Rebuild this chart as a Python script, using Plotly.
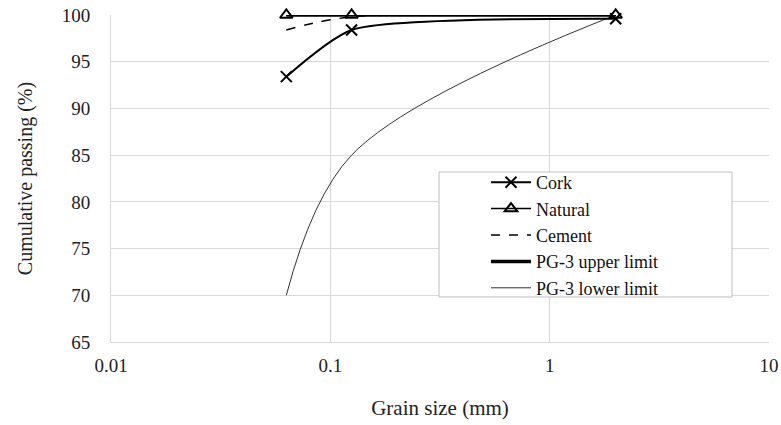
import plotly.graph_objects as go

cork_x = [0.063, 0.125, 2]
cork_y = [93.4, 98.4, 99.6]
natural_x = [0.063, 0.125, 2]
natural_y = [100, 100, 100]
cement_x = [0.063, 0.125, 2]
cement_y = [98.4, 99.8, 100]
upper_x = [0.063, 2]
upper_y = [100, 100]
lower_x = [0.063, 0.125, 2]
lower_y = [70, 85, 100]

x_ticks = [0.01, 0.1, 1, 10]
x_tick_labels = ["0.01", "0.1", "1", "10"]
y_ticks = [65, 70, 75, 80, 85, 90, 95, 100]

font = "Liberation Serif"

fig = go.Figure()
fig.add_trace(go.Scatter(x=lower_x, y=lower_y, name="PG-3 lower limit", mode="lines", legendrank=5,
                         cliponaxis=False,
                         line=dict(color="#333333", width=1, shape="spline", smoothing=1.0)))
fig.add_trace(go.Scatter(x=upper_x, y=upper_y, name="PG-3 upper limit", mode="lines", legendrank=4,
                         cliponaxis=False,
                         line=dict(color="black", width=3.5)))
fig.add_trace(go.Scatter(x=cement_x, y=cement_y, name="Cement", mode="lines", legendrank=3,
                         cliponaxis=False,
                         line=dict(color="black", width=1.5, dash="dash", shape="spline", smoothing=1)))
fig.add_trace(go.Scatter(x=cork_x, y=cork_y, name="Cork", mode="lines+markers", legendrank=1,
                         cliponaxis=False,
                         line=dict(color="black", width=2, shape="spline", smoothing=0.6),
                         marker=dict(symbol="x-thin-open", size=11, line=dict(color="black", width=2))))
fig.add_trace(go.Scatter(x=natural_x, y=natural_y, name="Natural", mode="lines+markers", legendrank=2,
                         cliponaxis=False,
                         line=dict(color="black", width=1.5),
                         marker=dict(symbol="triangle-up-open", size=11, color="black",
                                     line=dict(color="black", width=2))))

L, R, T, B = 111, 12, 15, 83
W, H = 781, 425
pw, ph = W - L - R, H - T - B

def px_x(p):
    return (p - L) / pw

def px_y(p):
    return (H - B - p) / ph

fig.update_layout(
    width=W, height=H,
    margin=dict(l=L, r=R, t=T, b=B, autoexpand=False),
    paper_bgcolor="white", plot_bgcolor="white",
    font=dict(family=font, size=19, color="#222222"),
    showlegend=True,
    legend=dict(x=px_x(486), y=px_y(164), xanchor="left", yanchor="top",
                borderwidth=0, bgcolor="rgba(0,0,0,0)", traceorder="normal",
                font=dict(family=font, size=18, color="#111111"),
                tracegroupgap=0, itemwidth=40),
    shapes=[dict(type="rect", xref="paper", yref="paper",
                 x0=px_x(439), x1=px_x(732), y0=px_y(297), y1=px_y(172),
                 line=dict(color="#bfbfbf", width=1), fillcolor="white", layer="above")],
)
fig.update_xaxes(type="log", range=[-2, 1], tickvals=x_ticks, ticktext=x_tick_labels,
                 showgrid=True, gridcolor="#d9d9d9", gridwidth=1, automargin=False,
                 showline=True, linecolor="#d9d9d9", mirror=False, zeroline=False,
                 ticks="", ticklabelstandoff=6, tickfont=dict(family=font, size=19, color="#222222"),
                 title=dict(text="Grain size (mm)", font=dict(family=font, size=21), standoff=25))
fig.update_yaxes(range=[65, 100], tickvals=y_ticks, automargin=False,
                 showgrid=True, gridcolor="#d9d9d9", gridwidth=1,
                 showline=True, linecolor="#d9d9d9", zeroline=False,
                 ticks="", ticklabelstandoff=16, tickfont=dict(family=font, size=19, color="#222222"),
                 title=dict(text="Cumulative passing (%)", font=dict(family=font, size=20), standoff=23))

fig.write_html("out.html", config={"displayModeBar": False},
               post_script="document.body.style.margin='0';document.body.style.overflow='hidden';")
